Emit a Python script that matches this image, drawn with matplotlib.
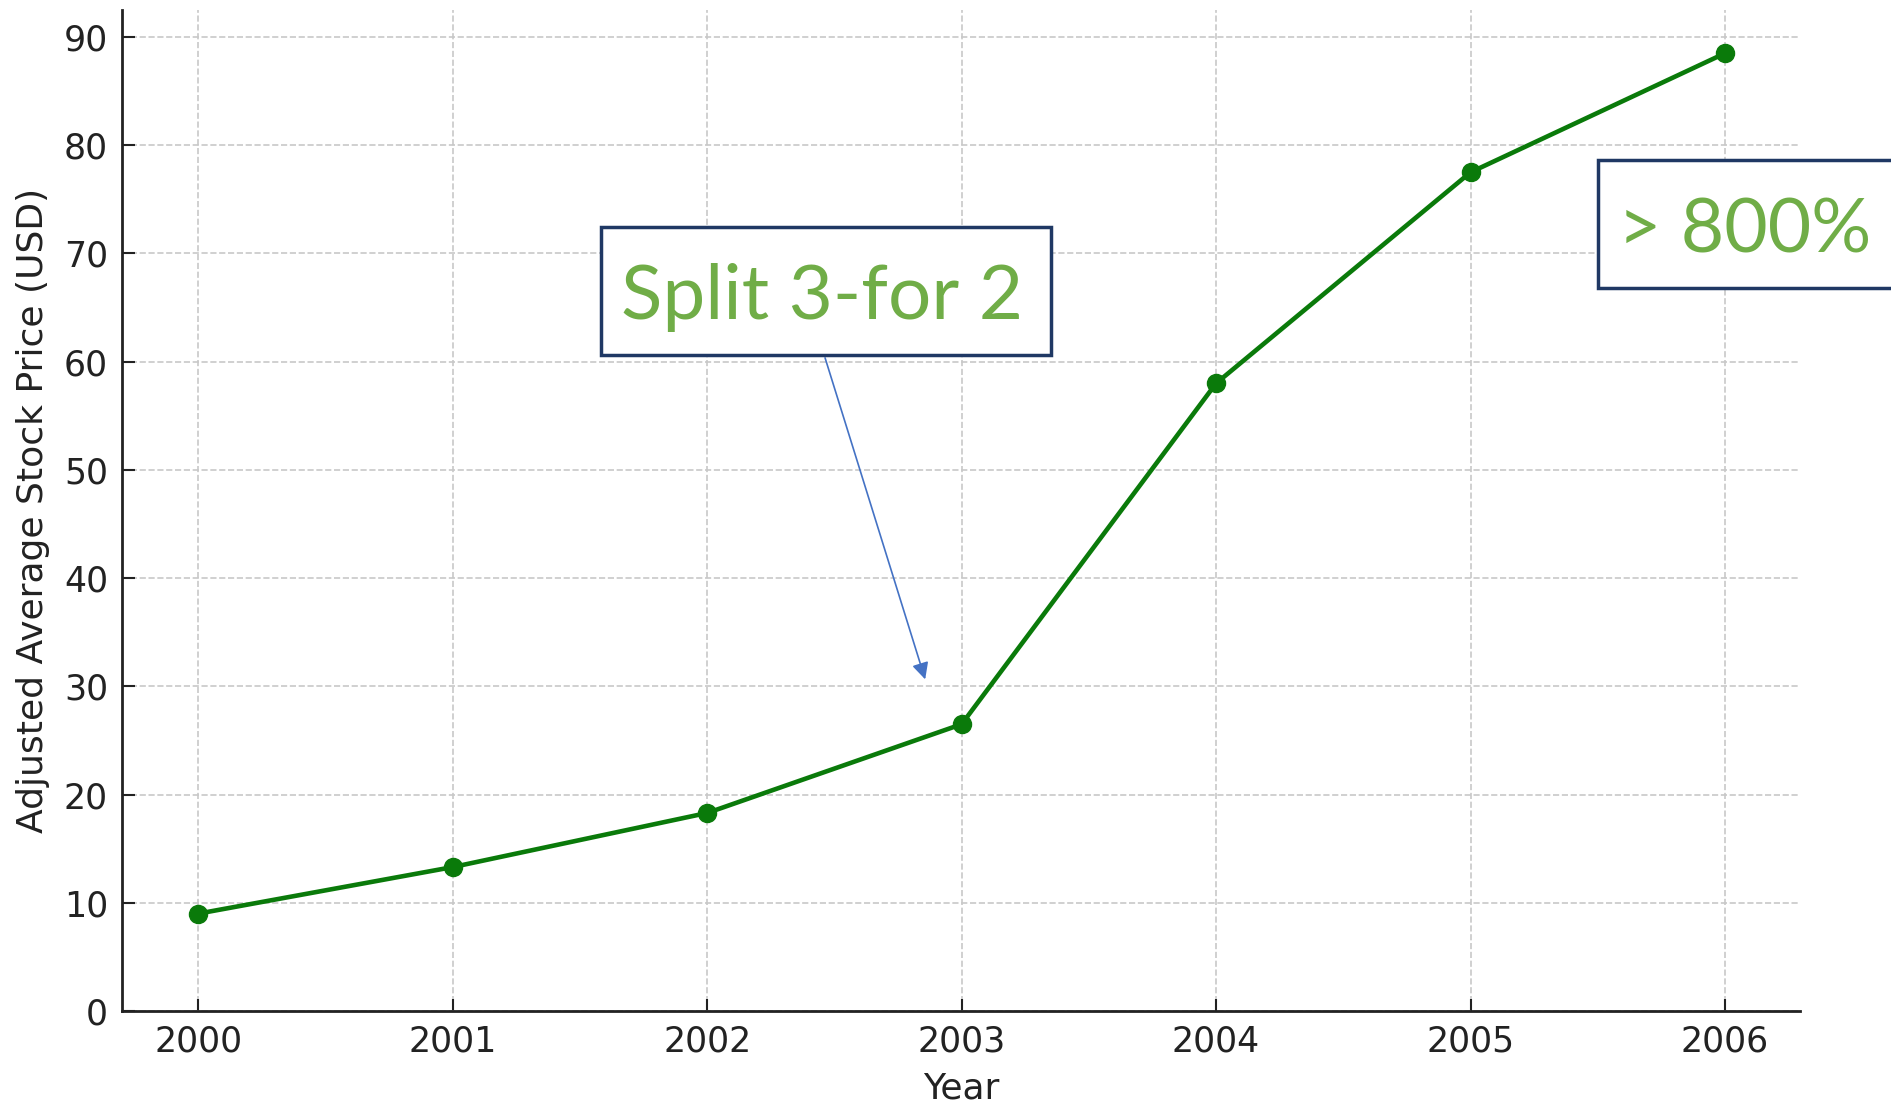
import matplotlib.pyplot as plt
from matplotlib.patches import Rectangle

years = [2000, 2001, 2002, 2003, 2004, 2005, 2006]
price = [9.0, 13.3, 18.3, 26.5, 58.0, 77.5, 88.5]
yticks = [0, 10, 20, 30, 40, 50, 60, 70, 80, 90]

split_label = "Split 3-for 2"
gain_label = "> 800%"
arrow_tip = (2002.86, 30.4)
arrow_tail = (2002.46, 60.6)

W, H = 1891, 1102
fig = plt.figure(figsize=(W / 100, H / 100), dpi=100)
ax = fig.add_axes([122 / W, 1 - 1011 / H, (1800 - 122) / W, (1011 - 10) / H])

ax.plot(years, price, color='#0a7a0a', lw=3.3, marker='o', markersize=13)

ax.set_xlim(1999.70, 2006.295)
ax.set_ylim(0, 92.5)
ax.set_xticks(years)
ax.set_yticks(yticks)
ax.tick_params(direction='in', length=9, width=1.5, labelsize=25, colors='#222222', pad=10)
ax.grid(True, linestyle='--', color='#c8c8c8', lw=1.2)
ax.set_axisbelow(True)
for s in ['top', 'right']:
    ax.spines[s].set_visible(False)
for s in ['left', 'bottom']:
    ax.spines[s].set_linewidth(2)
    ax.spines[s].set_color('#222222')

ax.set_xlabel("Year", fontsize=26, color='#222222', labelpad=9)
ax.set_ylabel("Adjusted Average Stock Price (USD)", fontsize=26, color='#222222', labelpad=10)

# arrow from the split box to the 2003 point
ax.annotate("", xy=arrow_tip, xytext=arrow_tail,
            arrowprops=dict(arrowstyle='-|>', color='#4472C4', lw=1.2, mutation_scale=25))

# callout boxes (figure pixel coords)
def callout(x0, y0, x1, y1, text, tx, ty, size):
    r = Rectangle((x0 / W, 1 - y1 / H), (x1 - x0) / W, (y1 - y0) / H,
                  transform=fig.transFigure, facecolor='white', edgecolor='#1F3864', lw=2.5, zorder=5)
    fig.add_artist(r)
    fig.text(tx / W, 1 - ty / H, text, fontsize=size, color='#70AD47', family='Lato',
             ha='left', va='center', zorder=6)

callout(601, 227, 1051, 355, split_label, 621, 297, 55)
callout(1598, 160, 1905, 288, gain_label, 1618, 231, 54)

fig.savefig("out.png", dpi=100)
